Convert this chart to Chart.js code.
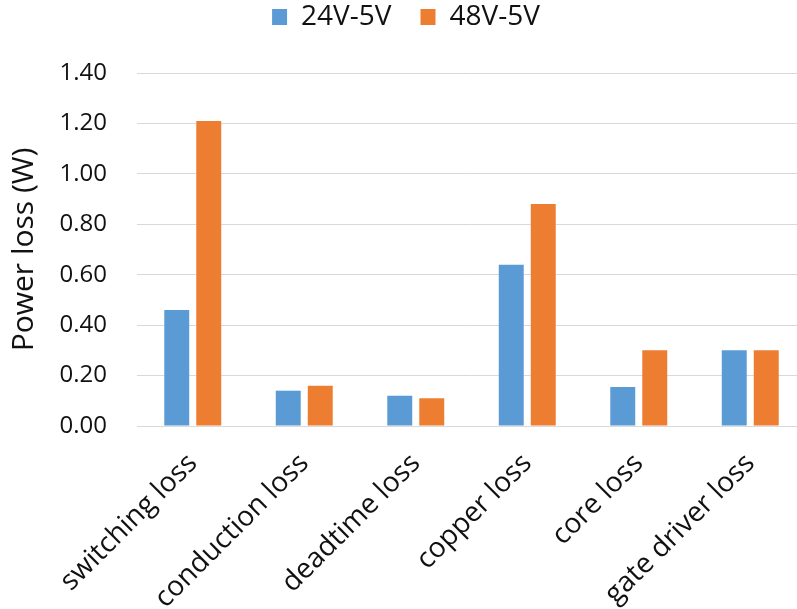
<!DOCTYPE html>
<html>
<head>
<meta charset="utf-8">
<script src="https://cdn.jsdelivr.net/npm/chart.js@4.4.1/dist/chart.umd.min.js"></script>
<style>
  html, body { margin: 0; padding: 0; background: #fff; overflow: hidden; }
  #wrap { width: 797px; height: 609px; overflow: hidden; position: relative; }
  canvas { display: block; }
</style>
</head>
<body>
<div id="wrap"><canvas id="c" width="812" height="609"></canvas></div>
<script>
// Loss breakdown per converter ratio
const categories = ['switching loss', 'conduction loss', 'deadtime loss', 'copper loss', 'core loss', 'gate driver loss'];
const seriesNames = ['24V-5V', '48V-5V'];
const loss24to5 = [0.46, 0.14, 0.12, 0.64, 0.155, 0.30];
const loss48to5 = [1.21, 0.16, 0.11, 0.88, 0.30, 0.30];
const yTicks = [0, 0.2, 0.4, 0.6, 0.8, 1.0, 1.2, 1.4];

const FONT = '"Open Sans", "Noto Sans", sans-serif';
const TEXT = '#111111';

// fixed legend band so the plot top lands where it should
const legendHeight = {
  id: 'legendHeight',
  beforeInit(chart) {
    const origFit = chart.legend.fit;
    chart.legend.fit = function () {
      origFit.call(this);
      this.height = 99;
    };
  }
};

new Chart(document.getElementById('c'), {
  type: 'bar',
  data: {
    labels: categories,
    datasets: [
      { label: seriesNames[0], data: loss24to5, backgroundColor: '#5b9bd5' },
      { label: seriesNames[1], data: loss48to5, backgroundColor: '#ed7d31' }
    ]
  },
  options: {
    responsive: false,
    animation: false,
    devicePixelRatio: 1,
    datasets: { bar: { categoryPercentage: 0.574, barPercentage: 0.78 } },
    layout: { padding: { top: -26, left: 6, right: 6, bottom: 0 } },
    plugins: {
      tooltip: { enabled: false },
      legend: {
        position: 'top',
        labels: {
          font: { family: FONT, size: 28 },
          color: TEXT,
          boxWidth: 15,
          boxHeight: 16,
          padding: 29
        }
      }
    },
    scales: {
      x: {
        grid: { display: false, drawTicks: false },
        border: { display: true, color: '#d9d9d9', width: 1 },
        ticks: {
          font: { family: FONT, size: 28 },
          color: TEXT,
          minRotation: 45,
          maxRotation: 45,
          padding: 21,
          autoSkip: false
        },
        afterFit(scale) { scale.height = 183; }
      },
      y: {
        min: 0,
        max: 1.4,
        afterBuildTicks(scale) { scale.ticks = yTicks.map(v => ({ value: v })); },
        grid: { color: '#d9d9d9', lineWidth: 1, drawTicks: false },
        border: { display: false },
        ticks: {
          font: { family: FONT, size: 24 },
          color: TEXT,
          padding: 30,
          callback: v => Number(v).toFixed(2)
        },
        title: {
          display: true,
          text: 'Power loss (W)',
          font: { family: FONT, size: 30 },
          color: TEXT,
          padding: { top: 0, bottom: 2 }
        },
        afterFit(scale) { scale.width = 131; }
      }
    }
  },
  plugins: [legendHeight]
});
</script>
</body>
</html>
